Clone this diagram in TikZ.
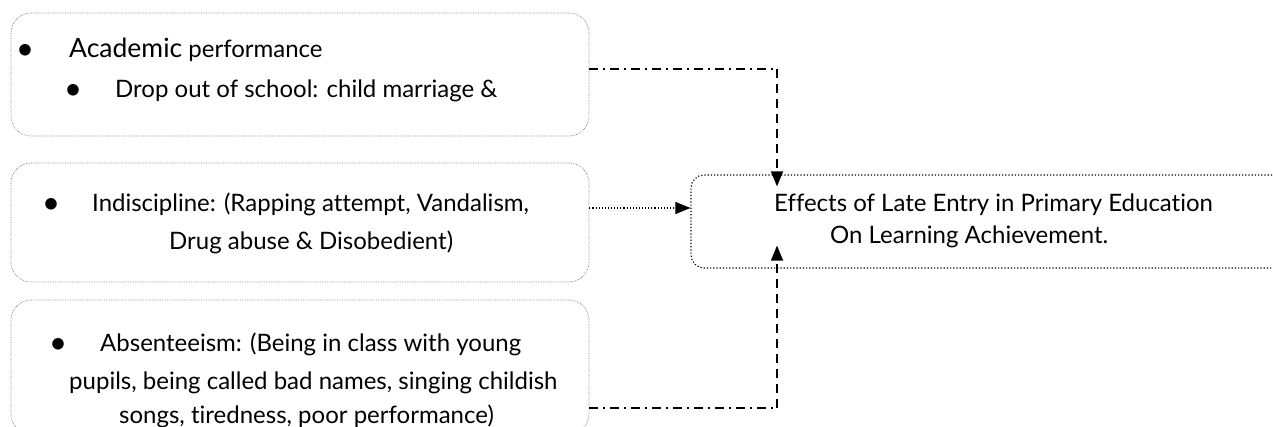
\documentclass[tikz,border=0pt]{standalone}
\usepackage{fontspec}
\setmainfont{Lato}[Ligatures=NoCommon]
\usetikzlibrary{arrows.meta}
\tikzset{
  srcbox/.style={draw=gray, line width=0.7pt, densely dotted, rounded corners=20pt, inner sep=0pt},
  effbox/.style={draw=black, line width=1.2pt, dotted, rounded corners=13pt, inner sep=0pt},
  txt/.style={anchor=base west, inner sep=0pt, font=\fontsize{24}{28}\selectfont},
  bul/.style={anchor=base, inner sep=0pt, font=\fontsize{31}{34}\selectfont},
  dashdot/.style={line width=1.5pt, dash pattern=on 9pt off 5pt on 2pt off 5pt},
  dashln/.style={line width=1.5pt, dash pattern=on 9pt off 6pt},
  dotln/.style={line width=1.1pt, dotted},
  tip/.style={-{Triangle[length=15pt,width=12pt]}}
}
\begin{document}
\begin{tikzpicture}[x=1pt,y=-1pt]
\useasboundingbox (0,0) rectangle (1273,427);
\clip (0,0) rectangle (1273,427);
% boxes
\node[srcbox, minimum width=578pt, minimum height=123pt] (b1) at (300,74.5) {};
\node[srcbox, minimum width=578pt, minimum height=119pt] (b2) at (300,222.5) {};
\node[srcbox, minimum width=578pt, minimum height=134pt] (b3) at (300,367) {};
\node[effbox, minimum width=610pt, minimum height=93pt] (c) at (996,221.5) {};
% box 1 text
\node[bul] (b1p1) at (25,60) {•};
\node[txt] (b1t1) at (69,58) {{\fontsize{26.5}{30}\selectfont Academic} performance};
\node[bul] (b1p2) at (73,100) {•};
\node[txt] (b1t2) at (115,98) {Drop out of school: child marriage \&};
% box 2 text
\node[bul] (b2p) at (51,214) {•};
\node[txt] (b2t1) at (92,212) {Indiscipline: (Rapping attempt, Vandalism,};
\node[txt] (b2t2) at (169,250) {Drug abuse \& Disobedient)};
% box 3 text
\node[bul] (b3p) at (58,353) {•};
\node[txt] (b3t1) at (100,351) {Absenteeism: (Being in class with young};
\node[txt] (b3t2) at (69,389) {pupils, being called bad names, singing childish};
\node[txt] (b3t3) at (119,423) {songs, tiredness, poor performance)};
% central text
\node[txt] (ct1) at (774,212) {Effects of Late Entry in Primary Education};
\node[txt] (ct2) at (830,244) {On Learning Achievement.};
% connectors
\coordinate (j1) at (777,69);
\coordinate (j3) at (777,408);
\coordinate (m2) at (0,208);
\draw[dashdot] (b1.east |- j1) -- (j1);
\draw[dashln, tip] (j1) -- ([yshift=-12pt]c.north -| j1);
\draw[dotln, tip] (b2.east |- m2) -- (c.west |- m2);
\draw[dashdot] (b3.east |- j3) -- (j3);
\draw[dashln, tip] (j3) -- ([yshift=23pt]c.south -| j3);
\end{tikzpicture}
\end{document}
